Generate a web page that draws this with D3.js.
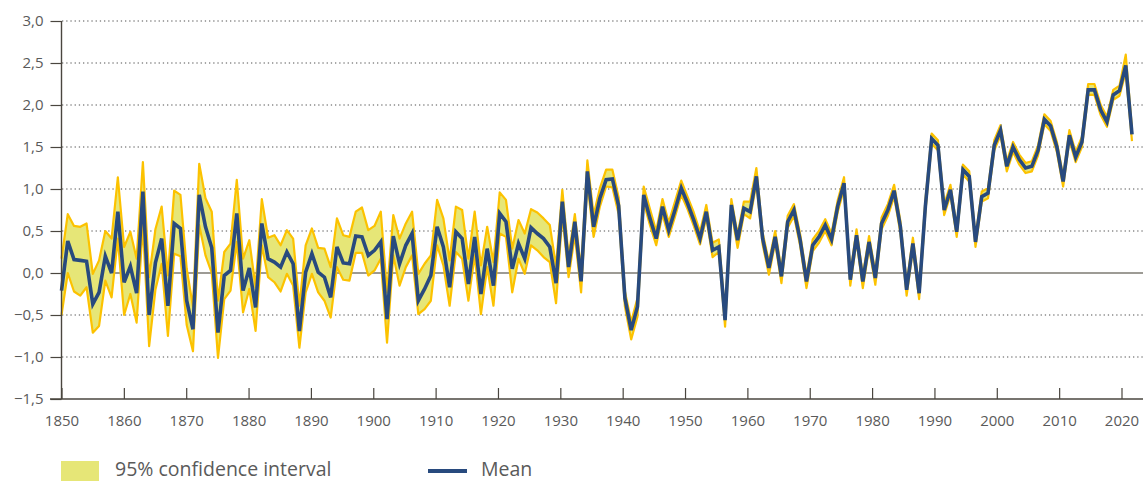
<!DOCTYPE html>
<html>
<head>
<meta charset="utf-8">
<script src="https://cdn.jsdelivr.net/npm/d3@7"></script>
<style>
  html, body { margin: 0; padding: 0; background: #ffffff; }
  svg { display: block; }
  text { font-family: "Open Sans", "Noto Sans", sans-serif; fill: #5a5a5a; }
</style>
</head>
<body>
<svg id="chart" width="1143" height="481"></svg>
<script>
const firstYear = 1850;
const meanValues = [
 -0.21, 0.38, 0.16, 0.15, 0.14, -0.37, -0.23, 0.20, 0.00, 0.73,
 -0.11, 0.08, -0.24, 0.97, -0.50, 0.12, 0.41, -0.39, 0.59, 0.53,
 -0.33, -0.67, 0.93, 0.55, 0.30, -0.71, -0.03, 0.03, 0.71, -0.21,
 0.06, -0.41, 0.59, 0.17, 0.13, 0.07, 0.25, 0.11, -0.69, 0.01,
 0.23, 0.01, -0.05, -0.29, 0.31, 0.12, 0.11, 0.44, 0.43, 0.21,
 0.27, 0.37, -0.55, 0.44, 0.11, 0.33, 0.47, -0.33, -0.19, -0.03,
 0.55, 0.31, -0.17, 0.49, 0.41, -0.13, 0.43, -0.25, 0.29, -0.15,
 0.71, 0.61, 0.05, 0.35, 0.17, 0.54, 0.47, 0.41, 0.31, -0.12,
 0.85, 0.07, 0.61, -0.10, 1.21, 0.55, 0.89, 1.11, 1.12, 0.80,
 -0.30, -0.68, -0.40, 0.93, 0.65, 0.41, 0.79, 0.51, 0.75, 1.01,
 0.83, 0.63, 0.41, 0.73, 0.27, 0.31, -0.56, 0.81, 0.39, 0.77,
 0.73, 1.15, 0.41, 0.06, 0.43, -0.04, 0.61, 0.75, 0.39, -0.10,
 0.33, 0.43, 0.57, 0.40, 0.80, 1.07, -0.08, 0.45, -0.10, 0.37,
 -0.06, 0.59, 0.75, 0.98, 0.55, -0.20, 0.35, -0.24, 0.80, 1.60,
 1.52, 0.75, 0.99, 0.49, 1.23, 1.15, 0.37, 0.91, 0.95, 1.52,
 1.70, 1.27, 1.50, 1.35, 1.25, 1.27, 1.46, 1.83, 1.75, 1.50,
 1.09, 1.64, 1.38, 1.56, 2.18, 2.18, 1.94, 1.80, 2.12, 2.17,
 2.47, 1.65
];
const lowerValues = [
 -0.50, 0.00, -0.22, -0.27, -0.17, -0.71, -0.63, -0.09, -0.29, 0.41,
 -0.50, -0.25, -0.59, 0.57, -0.87, -0.20, 0.11, -0.75, 0.23, 0.20,
 -0.62, -0.93, 0.57, 0.21, 0.00, -1.01, -0.31, -0.21, 0.37, -0.47,
 -0.19, -0.69, 0.33, -0.05, -0.11, -0.22, -0.01, -0.15, -0.89, -0.23,
 -0.01, -0.23, -0.33, -0.53, 0.07, -0.08, -0.09, 0.24, 0.24, -0.03,
 0.03, 0.17, -0.83, 0.21, -0.15, 0.07, 0.21, -0.49, -0.43, -0.33,
 0.33, 0.09, -0.39, 0.25, 0.17, -0.33, 0.21, -0.49, 0.07, -0.39,
 0.47, 0.43, -0.23, 0.17, -0.01, 0.33, 0.27, 0.19, 0.13, -0.36,
 0.69, -0.05, 0.45, -0.23, 1.07, 0.43, 0.79, 1.03, 1.02, 0.70,
 -0.40, -0.79, -0.52, 0.84, 0.57, 0.33, 0.70, 0.43, 0.67, 0.93,
 0.76, 0.56, 0.34, 0.66, 0.19, 0.25, -0.64, 0.73, 0.30, 0.70,
 0.65, 1.07, 0.34, -0.02, 0.36, -0.12, 0.54, 0.68, 0.32, -0.18,
 0.26, 0.36, 0.50, 0.33, 0.73, 1.00, -0.15, 0.38, -0.18, 0.30,
 -0.14, 0.52, 0.68, 0.91, 0.48, -0.27, 0.28, -0.31, 0.73, 1.54,
 1.46, 0.69, 0.93, 0.43, 1.17, 1.09, 0.31, 0.85, 0.89, 1.46,
 1.64, 1.21, 1.44, 1.29, 1.19, 1.21, 1.40, 1.77, 1.69, 1.44,
 1.03, 1.58, 1.32, 1.50, 2.12, 2.12, 1.88, 1.74, 2.06, 2.11,
 2.39, 1.57
];
const upperValues = [
 0.17, 0.70, 0.56, 0.55, 0.59, -0.01, 0.15, 0.50, 0.41, 1.14,
 0.31, 0.49, 0.17, 1.32, -0.05, 0.52, 0.79, -0.03, 0.98, 0.93,
 0.05, -0.40, 1.30, 0.89, 0.73, -0.33, 0.25, 0.35, 1.11, 0.17,
 0.39, -0.17, 0.88, 0.42, 0.45, 0.33, 0.51, 0.41, -0.39, 0.33,
 0.53, 0.30, 0.29, 0.07, 0.65, 0.45, 0.43, 0.73, 0.78, 0.51,
 0.56, 0.73, -0.23, 0.69, 0.41, 0.59, 0.73, -0.01, 0.11, 0.21,
 0.87, 0.65, 0.15, 0.79, 0.75, 0.17, 0.73, 0.09, 0.55, 0.13,
 0.96, 0.87, 0.29, 0.63, 0.47, 0.76, 0.72, 0.65, 0.57, 0.08,
 0.99, 0.20, 0.70, 0.04, 1.34, 0.69, 1.01, 1.23, 1.23, 0.90,
 -0.22, -0.58, -0.30, 1.03, 0.76, 0.50, 0.88, 0.60, 0.85, 1.10,
 0.91, 0.72, 0.49, 0.81, 0.36, 0.40, -0.48, 0.88, 0.46, 0.85,
 0.85, 1.25, 0.48, 0.13, 0.50, 0.04, 0.68, 0.82, 0.46, -0.03,
 0.40, 0.50, 0.64, 0.47, 0.87, 1.14, -0.01, 0.52, -0.03, 0.44,
 0.01, 0.66, 0.82, 1.05, 0.62, -0.13, 0.42, -0.17, 0.87, 1.66,
 1.58, 0.82, 1.05, 0.55, 1.29, 1.21, 0.43, 0.97, 1.01, 1.58,
 1.76, 1.33, 1.56, 1.41, 1.31, 1.33, 1.52, 1.89, 1.81, 1.56,
 1.15, 1.70, 1.44, 1.62, 2.25, 2.25, 2.00, 1.86, 2.18, 2.23,
 2.60, 1.72
];
const yearTicks = [1850,1860,1870,1880,1890,1900,1910,1920,1930,1940,1950,1960,1970,1980,1990,2000,2010,2020];
const valueTicks = [-1.5,-1.0,-0.5,0,0.5,1.0,1.5,2.0,2.5,3.0];
const legendLabels = ["95% confidence interval", "Mean"];

const years = meanValues.map((_, i) => firstYear + i);
const rows = years.map((y, i) => ({year: y, mean: meanValues[i], lo: lowerValues[i], hi: upperValues[i]}));

const svg = d3.select("#chart");
const x = d3.scaleLinear().domain([1850, 2021]).range([61.5, 1132]);
const xTicks = d3.scaleLinear().domain([1850, 2020]).range([61.5, 1121.5]);
const y = d3.scaleLinear().domain([-1.5, 3.0]).range([399, 21]);
const plotRight = 1143;

// dotted gridlines
svg.append("g").selectAll("line")
  .data(valueTicks.filter(v => v !== 0 && v !== -1.5))
  .join("line")
  .attr("x1", 62).attr("x2", plotRight)
  .attr("y1", d => y(d)).attr("y2", d => y(d))
  .attr("stroke", "#8a8a8a").attr("stroke-width", 1.3)
  .attr("stroke-dasharray", "1.3,2.9");

// zero line
svg.append("line")
  .attr("x1", 62).attr("x2", plotRight)
  .attr("y1", y(0)).attr("y2", y(0))
  .attr("stroke", "#7d7a72").attr("stroke-width", 1.6);

// band
const area = d3.area().x(d => x(d.year)).y0(d => y(d.lo)).y1(d => y(d.hi));
svg.append("path").datum(rows).attr("d", area)
  .attr("fill", "#e6e677").attr("stroke", "none");
const lineLo = d3.line().x(d => x(d.year)).y(d => y(d.lo));
const lineHi = d3.line().x(d => x(d.year)).y(d => y(d.hi));
[lineLo, lineHi].forEach(l => {
  svg.append("path").datum(rows).attr("d", l)
    .attr("fill", "none").attr("stroke", "#fcc200").attr("stroke-width", 2.2)
    .attr("stroke-linejoin", "round");
});

// mean line
const lineMean = d3.line().x(d => x(d.year)).y(d => y(d.mean));
svg.append("path").datum(rows).attr("d", lineMean)
  .attr("fill", "none").attr("stroke", "#284a7e").attr("stroke-width", 3.6)
  .attr("stroke-linejoin", "miter");

// y axis
const fmt = v => (v < 0 ? "\u2212" : "") + Math.abs(v).toFixed(1).replace(".", ",");
const yAxis = d3.axisLeft(y).tickValues(valueTicks).tickSize(11).tickPadding(7).tickFormat(fmt);
const gy = svg.append("g").attr("transform", "translate(61.5,0)").call(yAxis);
gy.select(".domain").attr("stroke", "#4a463f").attr("stroke-width", 1.4).attr("d", "M0,21V399");
gy.selectAll(".tick line").attr("stroke", "#4a463f").attr("stroke-width", 1.2);
gy.selectAll(".tick text").style("font-family", "'Open Sans', sans-serif").style("font-size", "15px").attr("fill", "#5a5a5a");

// x axis
const xAxis = d3.axisBottom(xTicks).tickValues(yearTicks).tickSize(-11).tickPadding(16).tickFormat(d3.format("d"));
const gx = svg.append("g").attr("transform", "translate(0,399)").call(xAxis);
gx.select(".domain").attr("stroke", "#4a463f").attr("stroke-width", 1.4).attr("d", "M50,0H" + plotRight);
gx.selectAll(".tick line").attr("stroke", "#4a463f").attr("stroke-width", 1.2);
gx.selectAll(".tick text").style("font-family", "'Open Sans', sans-serif").style("font-size", "15px").attr("fill", "#5a5a5a");

// legend
const lg = svg.append("g");
lg.append("rect").attr("x", 61).attr("y", 461).attr("width", 38).attr("height", 20).attr("fill", "#e6e677");
lg.append("text").attr("x", 115).attr("y", 475.5).style("font-size", "19.5px").text(legendLabels[0]);
lg.append("line").attr("x1", 428).attr("x2", 467).attr("y1", 471).attr("y2", 471)
  .attr("stroke", "#284a7e").attr("stroke-width", 4);
lg.append("text").attr("x", 481).attr("y", 475.5).style("font-size", "19.5px").text(legendLabels[1]);
</script>
</body>
</html>
